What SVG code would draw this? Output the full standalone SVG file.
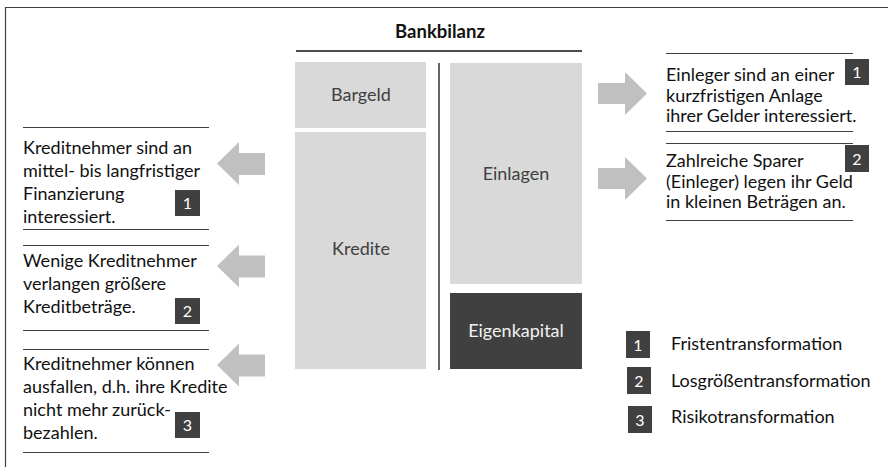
<svg xmlns="http://www.w3.org/2000/svg" width="888" height="467" viewBox="0 0 888 467">
<defs>
<style>
text { font-family: "Lato", "Liberation Sans", sans-serif; }
.t { font-size: 18px; fill: #111; }
.box { fill: #d9d9d9; }
.boxt { font-size: 18px; fill: #404040; text-anchor: middle; }
.dark { fill: #404040; }
.badge { font-size: 16px; fill: #ffffff; text-anchor: middle; }
.rule { stroke: #404040; stroke-width: 1; fill: none; }
.arrow { fill: #c0c0c0; }
</style>
</defs>
<rect x="0" y="0" width="888" height="467" fill="#ffffff"/>
<path d="M5.5 467 V7.5 H888" stroke="#404040" stroke-width="1.2" fill="none"/>

<g id="bilanz">
<text x="440" y="38" font-size="18.5" font-weight="bold" text-anchor="middle" fill="#111">Bankbilanz</text>
<line x1="296" y1="51" x2="582" y2="51" stroke="#111" stroke-width="1.3"/>
<line x1="439" y1="63" x2="439" y2="370" stroke="#111" stroke-width="1.3"/>
</g>
<g id="bargeld"><rect class="box" x="295" y="62" width="131" height="66"/><text class="boxt" x="361" y="101">Bargeld</text></g>
<g id="kredite"><rect class="box" x="295" y="132" width="131" height="237"/><text class="boxt" x="361" y="255">Kredite</text></g>
<g id="einlagen"><rect class="box" x="450" y="63" width="132" height="221"/><text class="boxt" x="516" y="180">Einlagen</text></g>
<g id="eigenkapital"><rect class="dark" x="450" y="293" width="132" height="76"/><text class="boxt" x="516" y="337" style="fill:#f2f2f2">Eigenkapital</text></g>

<g id="connectors">
<polygon class="arrow" points="217,163.5 239,142 239,153 265,153 265,175 239,175 239,185"/>
<polygon class="arrow" points="217,266 239,244.5 239,255.5 265,255.5 265,277.5 239,277.5 239,287.5"/>
<polygon class="arrow" points="217,365 239,343.5 239,354.5 265,354.5 265,376.5 239,376.5 239,386.5"/>
<polygon class="arrow" points="647,93.5 625,72 625,83 598,83 598,104 625,104 625,115"/>
<polygon class="arrow" points="647,178.5 625,157 625,168 598,168 598,189 625,189 625,200"/>
</g>

<g id="left1">
<line class="rule" x1="23" y1="127.5" x2="209" y2="127.5"/>
<text class="t" x="23" y="154">Kreditnehmer sind an</text>
<text class="t" x="23" y="177">mittel- bis langfristiger</text>
<text class="t" x="23" y="200">Finanzierung</text>
<text class="t" x="23" y="223">interessiert.</text>
<rect class="dark" x="175" y="190" width="25" height="26"/><text class="badge" x="187.5" y="209">1</text>
<line class="rule" x1="23" y1="229.5" x2="209" y2="229.5"/>
</g>
<g id="left2">
<line class="rule" x1="23" y1="245.5" x2="209" y2="245.5"/>
<text class="t" x="23" y="267">Wenige Kreditnehmer</text>
<text class="t" x="23" y="290">verlangen größere</text>
<text class="t" x="23" y="313">Kreditbeträge.</text>
<rect class="dark" x="175" y="298" width="25" height="26"/><text class="badge" x="187.5" y="317">2</text>
<line class="rule" x1="23" y1="330.5" x2="209" y2="330.5"/>
</g>
<g id="left3">
<line class="rule" x1="23" y1="349.5" x2="209" y2="349.5"/>
<text class="t" x="23" y="370">Kreditnehmer können</text>
<text class="t" x="23" y="393">ausfallen, d.h. ihre Kredite</text>
<text class="t" x="23" y="416">nicht mehr zurück-</text>
<text class="t" x="23" y="439">bezahlen.</text>
<rect class="dark" x="175" y="412" width="25" height="26"/><text class="badge" x="187.5" y="431">3</text>
<line class="rule" x1="23" y1="452.5" x2="209" y2="452.5"/>
</g>
<g id="right1">
<line class="rule" x1="666" y1="53.5" x2="853" y2="53.5"/>
<text class="t" x="666" y="81">Einleger sind an einer</text>
<text class="t" x="666" y="102">kurzfristigen Anlage</text>
<text class="t" x="666" y="122">ihrer Gelder interessiert.</text>
<rect class="dark" x="845" y="59" width="24" height="26"/><text class="badge" x="857" y="78">1</text>
<line class="rule" x1="666" y1="131.5" x2="853" y2="131.5"/>
</g>
<g id="right2">
<line class="rule" x1="666" y1="143.5" x2="853" y2="143.5"/>
<text class="t" x="666" y="167">Zahlreiche Sparer</text>
<text class="t" x="666" y="188">(Einleger) legen ihr Geld</text>
<text class="t" x="666" y="208">in kleinen Beträgen an.</text>
<rect class="dark" x="845" y="145" width="24" height="27"/><text class="badge" x="857" y="164.5">2</text>
<line class="rule" x1="666" y1="220.5" x2="853" y2="220.5"/>
</g>
<g id="legend">
<rect class="dark" x="626" y="331" width="24" height="27"/><text class="badge" x="638" y="350.5">1</text>
<text class="t" x="671" y="350">Fristentransformation</text>
<rect class="dark" x="627" y="367" width="24" height="27"/><text class="badge" x="639" y="386.5">2</text>
<text class="t" x="671" y="387">Losgrößentransformation</text>
<rect class="dark" x="628" y="406" width="24" height="27"/><text class="badge" x="640" y="425.5">3</text>
<text class="t" x="671" y="423">Risikotransformation</text>
</g>
</svg>
